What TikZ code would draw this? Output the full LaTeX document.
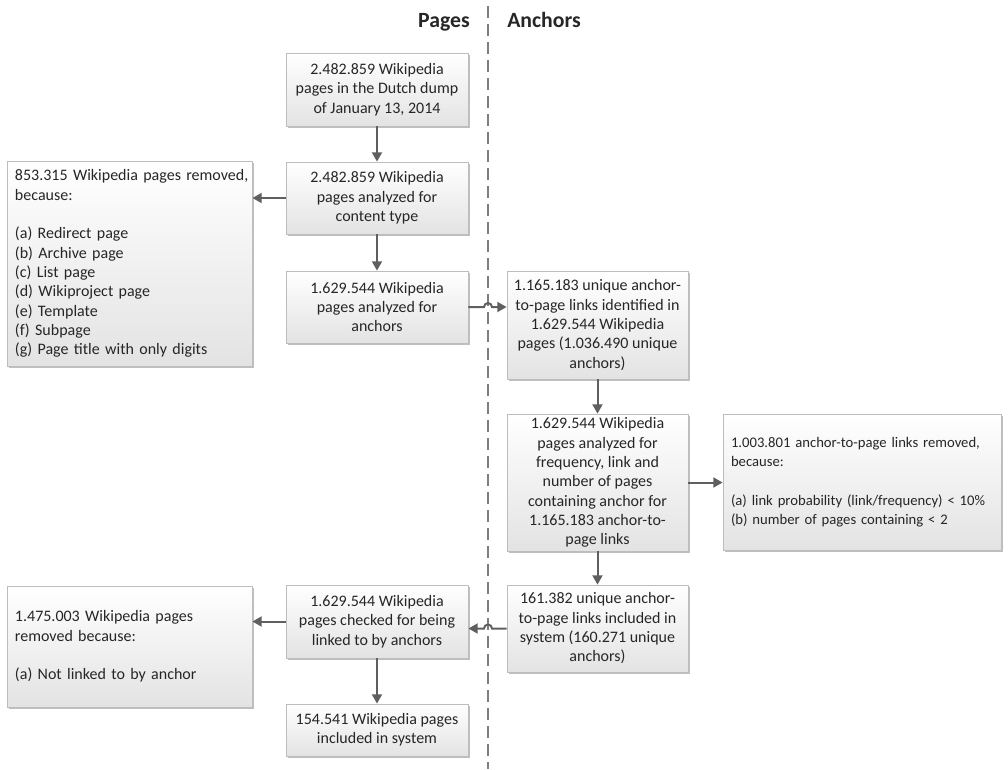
\documentclass[tikz,border=0pt]{standalone}
\usepackage{fontspec}
\setmainfont{Carlito}
\usetikzlibrary{arrows.meta,shadows,calc}
\definecolor{linegray}{HTML}{5F5F5F}
\definecolor{dashgray}{HTML}{7F7F7F}
\definecolor{bordergray}{HTML}{BDBDBD}
\definecolor{txt}{HTML}{262626}
\tikzset{
  box/.style={draw=bordergray, line width=0.6pt, top color=white, bottom color=black!11,
    drop shadow={shadow xshift=1.2pt, shadow yshift=-1.2pt, opacity=0.25, fill=black},
    inner sep=0pt, text=txt, font=\fontsize{12}{14.5}\selectfont},
  cbox/.style={box, align=center},
  lbox/.style={box, align=left, inner xsep=6pt},
  arr/.style={draw=linegray, line width=1.5pt, -{Triangle[length=7pt,width=7.5pt]}},
  divider/.style={draw=dashgray, line width=1.5pt, dash pattern=on 9pt off 4.5pt},
  title/.style={inner sep=0pt, text=txt, font=\fontsize{16.3}{19}\selectfont\bfseries}
}
\begin{document}
\begin{tikzpicture}[x=0.75pt,y=-0.75pt]
\useasboundingbox (0,0) rectangle (1008,769);

\coordinate (dtop) at (488,6);
\coordinate (dbot) at (488,769);
\draw[divider] (dtop) -- (dbot);

\node[title, anchor=base east] (tpages) at (470,27) {Pages};
\node[title, anchor=base west] (tanch) at (507,27) {Anchors};

% Pages column
\node[cbox, minimum width=136.5pt, minimum height=54.75pt] (B1) at (377,89.5)
  {2.482.859 Wikipedia\\pages in the Dutch dump\\of January 13, 2014};
\node[cbox, minimum width=136.5pt, minimum height=54pt] (B2) at (377,198)
  {2.482.859 Wikipedia\\pages analyzed for\\content type};
\node[cbox, minimum width=136.5pt, minimum height=54pt] (B3) at (377,307)
  {1.629.544 Wikipedia\\pages analyzed for\\anchors};
\node[cbox, minimum width=136.5pt, minimum height=54.75pt] (B4) at (377,621.5)
  {1.629.544 Wikipedia\\pages checked for being\\linked to by anchors};
\node[cbox, minimum width=136.5pt, minimum height=39pt] (B5) at (377,730)
  {154.541 Wikipedia pages\\included in system};

% removed (left)
\node[lbox, text width=171.75pt, minimum height=153.75pt] (L1) at (129.5,263.5)
  {\mbox{853.315 Wikipedia pages removed,}\\because:\\[14.5pt](a) Redirect page\\(b) Archive page\\(c) List page\\(d) Wikiproject page\\(e) Template\\(f) Subpage\\\mbox{(g) Page title with only digits}};
\node[lbox, text width=171.75pt, minimum height=90.75pt] (L2) at (129.5,646.5)
  {\mbox{1.475.003 Wikipedia pages}\\removed because:\\[14.5pt]\mbox{(a) Not linked to by anchor}};

% Anchors column
\node[cbox, minimum width=135.75pt, minimum height=81pt] (A1) at (597.5,325)
  {1.165.183 unique anchor-\\to-page links identified in\\1.629.544 Wikipedia\\pages (1.036.490 unique\\anchors)};
\node[cbox, minimum width=135.75pt, minimum height=102.75pt] (A2) at (597.5,482.5)
  {1.629.544 Wikipedia\\pages analyzed for\\frequency, link and\\number of pages\\containing anchor for\\1.165.183 anchor-to-\\page links};
\node[cbox, minimum width=135.75pt, minimum height=65.25pt] (A3) at (597.5,628.5)
  {161.382 unique anchor-\\to-page links included in\\system (160.271 unique\\anchors)};
\node[lbox, text width=196.5pt, minimum height=102pt, font=\fontsize{11}{14.5}\selectfont] (R1) at (862,482)
  {\mbox{1.003.801 anchor-to-page links removed,}\\because:\\[14.5pt]\mbox{(a) link probability (link/frequency) < 10\%}\\\mbox{(b) number of pages containing < 2}};

% connectors
\draw[arr] (B1.south) -- (B2.north);
\draw[arr] (B2.west) -- (B2.west -| L1.east);
\draw[arr] (B2.south) -- (B3.north);
\draw[arr] (B3.east) -- ($(B3.east -| dtop)+(-4,0)$) arc[start angle=180,end angle=0,radius=3pt] -- (B3.east -| A1.west);
\draw[arr] (A1.south) -- (A2.north);
\draw[arr] (A2.east) -- (A2.east -| R1.west);
\draw[arr] (A2.south) -- (A3.north);
\draw[arr] (A3.west) -- ($(A3.west -| dtop)+(4,0)$) arc[start angle=0,end angle=180,radius=3pt] -- (A3.west -| B4.east);
\draw[arr] (B4.west) -- (B4.west -| L2.east);
\draw[arr] (B4.south) -- (B5.north);
\end{tikzpicture}
\end{document}
